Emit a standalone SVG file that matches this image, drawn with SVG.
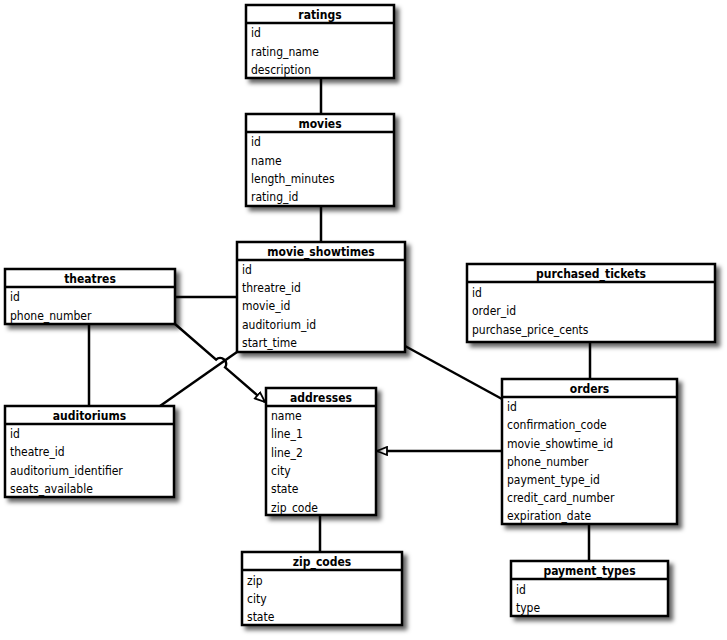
<svg xmlns="http://www.w3.org/2000/svg" width="727" height="640" viewBox="0 0 727 640">
<defs>
<filter id="sh" x="-10%" y="-10%" width="130%" height="130%">
<feDropShadow dx="4" dy="4" stdDeviation="2" flood-color="#000" flood-opacity="0.6"/>
</filter>
<marker id="tri" viewBox="0 0 12 10" refX="11" refY="5" markerWidth="12" markerHeight="10" markerUnits="userSpaceOnUse" orient="auto">
<path d="M1,1 L11,5 L1,9 Z" fill="#fff" stroke="#000" stroke-width="1.8"/>
</marker>
<style>
text{font-family:"DejaVu Sans Condensed","DejaVu Sans",sans-serif;font-stretch:condensed;font-size:12px;fill:#000}
.h{font-weight:bold;text-anchor:middle}
.box{fill:#fff;stroke:#000;stroke-width:2.5;filter:url(#sh)}
.sep{stroke:#000;stroke-width:2.5}
.c{fill:none;stroke:#000;stroke-width:2.5}
</style>
</defs>
<g id="connectors">
<line class="c" x1="321" y1="78" x2="321" y2="114"/>
<line class="c" x1="321" y1="206" x2="321" y2="242"/>
<line class="c" x1="175" y1="297" x2="237" y2="297"/>
<line class="c" x1="89" y1="324" x2="89" y2="406"/>
<line class="c" x1="160" y1="406" x2="237" y2="352"/>
<path class="c" d="M175,324 L216.1,359.6 A6,6 0 0 1 225.1,367.4 L265,402" marker-end="url(#tri)"/>
<line class="c" x1="405" y1="346" x2="502" y2="399"/>
<line class="c" x1="590" y1="342" x2="590" y2="379"/>
<line class="c" x1="502" y1="451" x2="377" y2="451" marker-end="url(#tri)"/>
<line class="c" x1="320" y1="515" x2="320" y2="552"/>
<line class="c" x1="589" y1="524" x2="589" y2="561"/>
</g>
<g id="ratings">
<rect class="box" x="246" y="5" width="148" height="73"/>
<line class="sep" x1="246" y1="23" x2="394" y2="23"/>
<text class="h" x="320" y="19">ratings</text>
<text x="251" y="37">id</text>
<text x="251" y="55.5">rating_name</text>
<text x="251" y="74">description</text>
</g>
<g id="movies">
<rect class="box" x="246" y="114" width="148" height="92"/>
<line class="sep" x1="246" y1="132" x2="394" y2="132"/>
<text class="h" x="320" y="128">movies</text>
<text x="251" y="146">id</text>
<text x="251" y="164.5">name</text>
<text x="251" y="183">length_minutes</text>
<text x="251" y="201">rating_id</text>
</g>
<g id="movie_showtimes">
<rect class="box" x="237" y="242" width="168" height="110"/>
<line class="sep" x1="237" y1="260" x2="405" y2="260"/>
<text class="h" x="321" y="256">movie_showtimes</text>
<text x="242" y="273.5">id</text>
<text x="242" y="292">threatre_id</text>
<text x="242" y="310">movie_id</text>
<text x="242" y="328.5">auditorium_id</text>
<text x="242" y="347">start_time</text>
</g>
<g id="theatres">
<rect class="box" x="5" y="269" width="170" height="55"/>
<line class="sep" x1="5" y1="287" x2="175" y2="287"/>
<text class="h" x="90" y="283">theatres</text>
<text x="10" y="301">id</text>
<text x="10" y="319.5">phone_number</text>
</g>
<g id="auditoriums">
<rect class="box" x="5" y="406" width="169" height="91"/>
<line class="sep" x1="5" y1="424" x2="174" y2="424"/>
<text class="h" x="89.5" y="420">auditoriums</text>
<text x="10" y="438">id</text>
<text x="10" y="456">theatre_id</text>
<text x="10" y="474.5">auditorium_identifier</text>
<text x="10" y="493">seats_available</text>
</g>
<g id="addresses">
<rect class="box" x="266" y="388" width="110" height="127"/>
<line class="sep" x1="266" y1="406" x2="376" y2="406"/>
<text class="h" x="321" y="402">addresses</text>
<text x="271" y="420">name</text>
<text x="271" y="438">line_1</text>
<text x="271" y="456.5">line_2</text>
<text x="271" y="475">city</text>
<text x="271" y="493">state</text>
<text x="271" y="511.5">zip_code</text>
</g>
<g id="purchased_tickets">
<rect class="box" x="467" y="264" width="248" height="78"/>
<line class="sep" x1="467" y1="282" x2="715" y2="282"/>
<text class="h" x="591" y="278">purchased_tickets</text>
<text x="472" y="296.5">id</text>
<text x="472" y="315">order_id</text>
<text x="472" y="333.5">purchase_price_cents</text>
</g>
<g id="orders">
<rect class="box" x="502" y="379" width="175" height="145"/>
<line class="sep" x1="502" y1="397" x2="677" y2="397"/>
<text class="h" x="589.5" y="393">orders</text>
<text x="507" y="411">id</text>
<text x="507" y="429">confirmation_code</text>
<text x="507" y="447.5">movie_showtime_id</text>
<text x="507" y="466">phone_number</text>
<text x="507" y="484">payment_type_id</text>
<text x="507" y="502">credit_card_number</text>
<text x="507" y="520">expiration_date</text>
</g>
<g id="zip_codes">
<rect class="box" x="242" y="552" width="160" height="73"/>
<line class="sep" x1="242" y1="570" x2="402" y2="570"/>
<text class="h" x="322" y="566">zip_codes</text>
<text x="247" y="584.5">zip</text>
<text x="247" y="603">city</text>
<text x="247" y="621">state</text>
</g>
<g id="payment_types">
<rect class="box" x="511" y="561" width="157" height="55"/>
<line class="sep" x1="511" y1="579" x2="668" y2="579"/>
<text class="h" x="589.5" y="575">payment_types</text>
<text x="516" y="593.5">id</text>
<text x="516" y="612">type</text>
</g>
</svg>
